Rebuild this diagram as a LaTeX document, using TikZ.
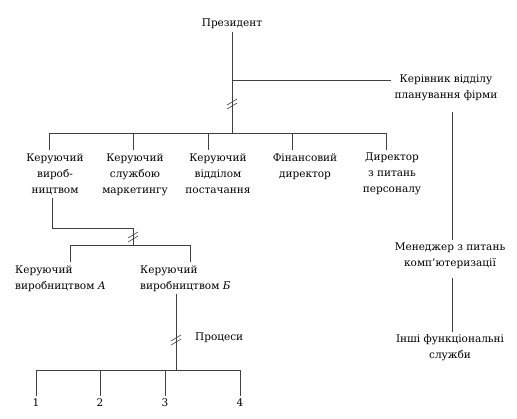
\documentclass[tikz,border=0pt]{standalone}
\usepackage{fontspec}
\setmainfont{DejaVu Serif}
\usetikzlibrary{positioning,calc}

\begin{document}
\begin{tikzpicture}[
  x=1pt,y=-1pt,
  font=\fontsize{10.5}{16}\selectfont,
  lbl/.style={align=center,inner sep=3pt,text=black},
  post/.style={lbl,anchor=north},
  sub/.style={lbl,align=left,anchor=north west},
  link/.style={line width=0.6pt,black!75},
  brk/.pic={\draw[link] (-5,1) -- (5,-5); \draw[link] (-5,5) -- (5,-1);},
]
\useasboundingbox (0,0) rectangle (517,418);

% ---------- top: president and staff line ----------
\node[lbl] (pres) at (232,24) {Президент};
\node[lbl] (plan) at (446,88) {Керівник відділу\\планування фірми};
\node[lbl] (mgr) at (450,256) {Менеджер з питань\\комп’ютеризації};
\node[lbl] (other) at (450,348) {Інші функціональні\\служби};

\coordinate (bus) at (232,133);
\draw[link] (pres) -- (bus);
\draw[link] (bus |- 0,80) -- ([yshift=8pt]plan.west);
\draw[link] ([xshift=6pt]plan.south) ++(0,8) -- ([xshift=2pt]mgr.north);
\draw[link] ([xshift=2pt]mgr.south) ++(0,6) -- ([xshift=2pt]other.north);
\pic at (232,104) {brk};

% ---------- first level ----------
\node[post] (c1) at (55,150) {Керуючий\\вироб-\\ництвом};
\node[post] (c2) at (135,150) {Керуючий\\службою\\маркетингу};
\node[post] (c3) at (218,150) {Керуючий\\відділом\\постачання};
\node[post] (c4) at (305,150) {Фінансовий\\директор};
\node[post] (c5) at (392,150) {Директор\\з питань\\персоналу};

\coordinate (b1) at (49,133);
\coordinate (b2) at (133,133);
\coordinate (b3) at (208,133);
\coordinate (b4) at (292,133);
\coordinate (b5) at (386,133);
\draw[link] (b1) -- (b5);
\foreach \i in {1,...,5}
  \draw[link] (b\i) -- (b\i |- c\i.north);

% ---------- production managers ----------
\coordinate (j1) at (133,228);
\coordinate (bus2) at (133,245);
\coordinate (d1) at (70,245);
\coordinate (d2) at (190,245);
\node[sub] (pa) at (12,262) {Керуючий\\виробництвом \textit{А}};
\node[sub] (pb) at (137,262) {Керуючий\\виробництвом \textit{Б}};

\draw[link] ([xshift=-3pt]c1.south) |- (j1) -- (bus2);
\pic at (133,237) {brk};
\draw[link] (d1) -- (d2);
\draw[link] (d1) -- (d1 |- pa.north);
\draw[link] (d2) -- (d2 |- pb.north);

% ---------- processes ----------
\coordinate (bus3) at (176,370);
\node[lbl,anchor=west] (proc) at (192,338) {Процеси};
\draw[link] (pb.south -| bus3) -- (bus3);
\pic at (176,340) {brk};

\node[lbl] (p1) at (36,403) {1};
\node[lbl] (p2) at (100,403) {2};
\node[lbl] (p3) at (165,403) {3};
\node[lbl] (p4) at (240,403) {4};
\draw[link] (p1 |- bus3) -- (p4 |- bus3);
\foreach \i in {1,...,4}
  \draw[link] (p\i |- bus3) -- (p\i);
\end{tikzpicture}
\end{document}
